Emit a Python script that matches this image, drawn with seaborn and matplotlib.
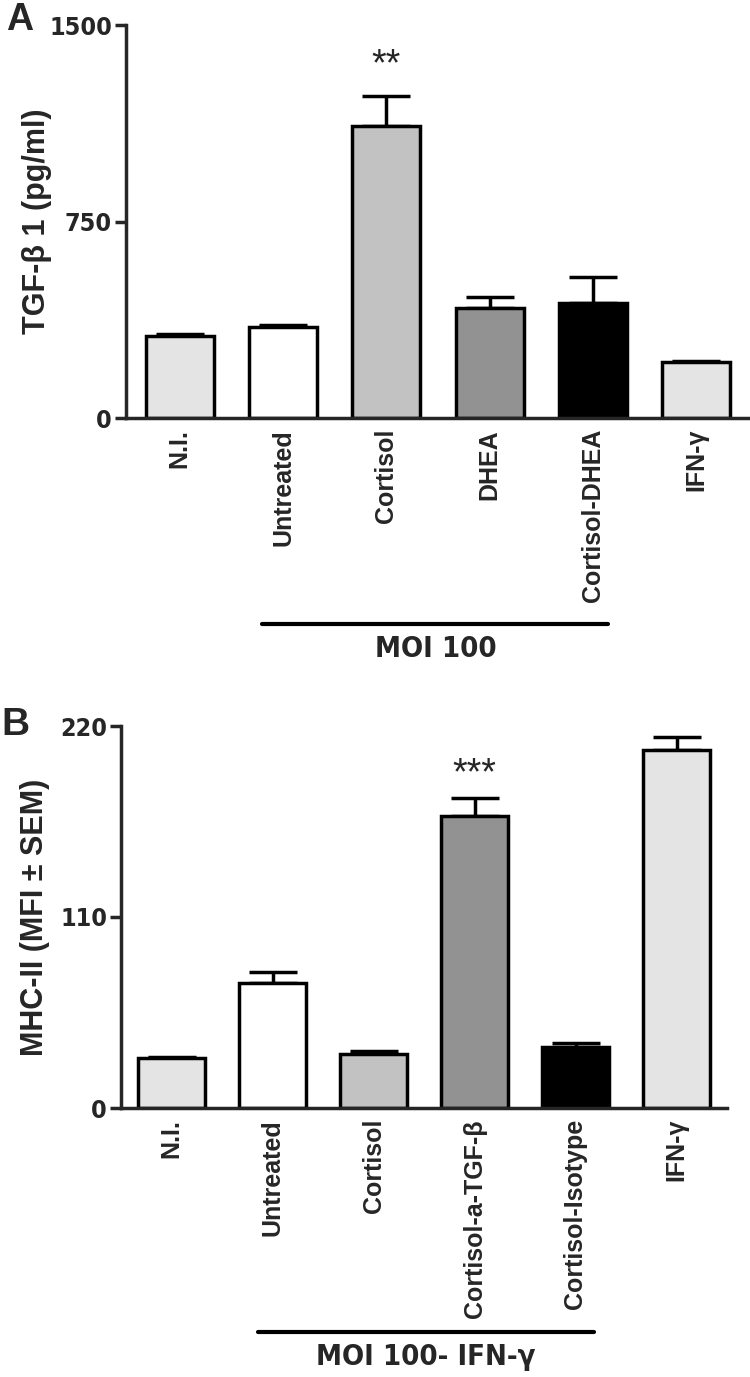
import matplotlib
matplotlib.use("Agg")
from matplotlib import pyplot as plt
import numpy as np
import pandas as pd
import seaborn as sns

# panel A: TGF-b1
labels_a = ["N.I.", "Untreated", "Cortisol", "DHEA", "Cortisol-DHEA", "IFN-γ"]
values_a = [314, 346, 1115, 419, 438, 212]
sem_a = [8, 10, 115, 41, 101, 5]
colors_a = ["#e4e4e4", "#ffffff", "#c2c2c2", "#929292", "#000000", "#e4e4e4"]

# panel B: MHC-II
labels_b = ["N.I.", "Untreated", "Cortisol", "Cortisol-a-TGF-β", "Cortisol-Isotype", "IFN-γ"]
values_b = [28.8, 71.9, 30.9, 168.4, 35.1, 206.0]
sem_b = [0.8, 6.3, 1.7, 10.0, 2.5, 7.8]
colors_b = ["#e4e4e4", "#ffffff", "#c2c2c2", "#929292", "#000000", "#e4e4e4"]

sns.set_style("ticks")
plt.rcParams["font.family"] = ["Liberation Sans", "DejaVu Sans"]
narrow = ["DejaVu Sans"]

fig = plt.figure(figsize=(7.5, 13.77), dpi=100)
ax_a = fig.add_axes([126 / 750, 1 - 418 / 1377, 624 / 750, 393 / 1377])
ax_b = fig.add_axes([121 / 750, 1 - 1108 / 1377, 606 / 750, 382 / 1377])


def panel(ax, labels, values, sem, colors, ymax, yticks, ylabel, star, star_idx, stars, group, xlim, group_x, line_y, text_y, ylab_x):
    df = pd.DataFrame({"group": labels, "value": values})
    sns.barplot(data = df, x = "group", y = "value", hue = "group", palette = colors, legend = False,
                width = 0.66, edgecolor = "black", linewidth = 2.5, ax = ax, errorbar = None)
    ax.errorbar(range(len(values)), values, yerr = [np.zeros(len(sem)), sem], fmt = "none",
                ecolor = "black", elinewidth = 2.5, capsize = 17, capthick = 2.5, zorder = 1)
    for bar in ax.patches:
        bar.set_zorder(2)
    ax.set_ylim(0, ymax)
    ax.set_xlim(*xlim)
    ax.set_yticks(yticks)
    ax.set_yticklabels([str(t) for t in yticks], family = narrow, fontstretch = "condensed",
                       fontweight = "bold", fontsize = 18)
    ax.set_xticks(range(len(labels)))
    ax.set_xticklabels(labels, rotation = 90, fontweight = "bold", fontsize = 18, va = "top")
    ax.tick_params(axis = "x", length = 0, pad = 8)
    ax.tick_params(axis = "y", length = 8, width = 2.5, pad = 2)
    ax.set_xlabel("")
    ax.set_ylabel(ylabel, fontweight = "bold", fontsize = 22)
    ax.yaxis.set_label_coords(ylab_x, 0.5)
    for side in ["top", "right"]:
        ax.spines[side].set_visible(False)
    for side in ["left", "bottom"]:
        ax.spines[side].set_linewidth(2.5)
    ax.text(star_idx, star, stars, ha = "center", va = "center", fontsize = 27)
    trans = matplotlib.transforms.blended_transform_factory(ax.transData, ax.transAxes)
    ax.plot(group_x, [line_y, line_y], color = "black", lw = 3, transform = trans, clip_on = False)
    ax.text(np.mean(group_x), text_y, group, transform = trans, ha = "center", va = "center",
            family = narrow, fontstretch = "condensed", fontweight = "bold", fontsize = 21)


panel(ax_a, labels_a, values_a, sem_a, colors_a, 1500, [0, 750, 1500], "TGF-β 1 (pg/ml)",
      1345, 2, "**", "MOI 100", (-0.52, 5.52), [0.80, 4.15], -0.525, -0.588, -0.119)
panel(ax_b, labels_b, values_b, sem_b, colors_b, 220, [0, 110, 220], "MHC-II (MFI ± SEM)",
      192, 3, "***", "MOI 100- IFN-γ", (-0.5, 5.5), [0.86, 4.18], -0.587, -0.653, -0.117)

fig.text(6 / 750, 1 - 20 / 1377, "A", fontsize = 27, fontweight = "bold", va = "center", ha = "left")
fig.text(1 / 750, 1 - 725 / 1377, "B", fontsize = 28, fontweight = "bold", va = "center", ha = "left")

plt.savefig("out.png", dpi = 100)
